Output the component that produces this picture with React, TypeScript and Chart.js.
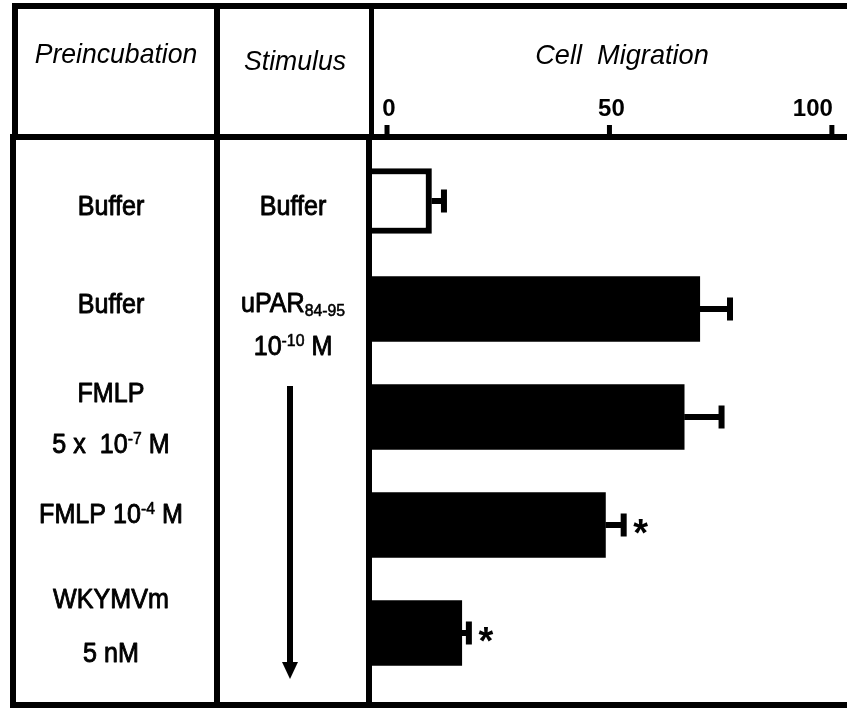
import React, { useEffect, useRef } from "react";
import { Chart, registerables } from "chart.js";

Chart.register(...registerables);

// ---------- data ----------
const categories = [
  "Buffer / Buffer",
  "Buffer / uPAR84-95",
  "FMLP 5 x 10-7 M / uPAR84-95",
  "FMLP 10-4 M / uPAR84-95",
  "WKYMVm 5 nM / uPAR84-95",
];
const migration = [10, 70.3, 66.8, 49.1, 16.8];
const migrationErr = [2.8, 6.8, 8.4, 4.1, 1.6];
const significant = [false, false, false, true, true];
const barFill = ["#ffffff", "#000000", "#000000", "#000000", "#000000"];
const barBorder = [6, 0, 0, 0, 0];
const xTicks = [0, 50, 100];
const X_MIN = -3.6;
const X_MAX = 103.4;

const headerTitles = ["Preincubation", "Stimulus", "Cell  Migration"];
// table text, "^{..}" superscript, "_{..}" subscript
const preincubationText = [["Buffer"], ["Buffer"], ["FMLP", "5 x  10^{-7} M"], ["FMLP 10^{-4} M"], ["WKYMVm", "5 nM"]];
const stimulusText = [["Buffer"], ["uPAR_{84-95}", "10^{-10} M"]];

// ---------- layout ----------
const W = 847;
const H = 708;
const FONT = '"Liberation Sans", Arial, Helvetica, sans-serif';
const COL1_X = 111;
const COL2_X = 293;
const preBaselines = [[215], [313], [402, 453], [523], [608, 662]];
const stimBaselines = [[215], [312, 355]];

type Run = { text: string; size: number; dy: number };

function parseRuns(s: string, size: number): Run[] {
  const runs: Run[] = [];
  const re = /(\^\{[^}]*\}|_\{[^}]*\})/g;
  let last = 0;
  let m: RegExpExecArray | null;
  while ((m = re.exec(s))) {
    if (m.index > last) runs.push({ text: s.slice(last, m.index), size, dy: 0 });
    const inner = m[0].slice(2, -1);
    if (m[0][0] === "^") runs.push({ text: inner, size: Math.round(size * 0.62), dy: -Math.round(size * 0.33) });
    else runs.push({ text: inner, size: Math.round(size * 0.62), dy: Math.round(size * 0.14) });
    last = m.index + m[0].length;
  }
  if (last < s.length) runs.push({ text: s.slice(last), size, dy: 0 });
  return runs;
}

function drawRich(
  ctx: CanvasRenderingContext2D,
  s: string,
  cx: number,
  baseline: number,
  size: number,
  style: string,
  scaleX: number,
  stroke = 0
) {
  const runs = parseRuns(s, size);
  let total = 0;
  const widths: number[] = [];
  for (const r of runs) {
    ctx.font = `${style} ${r.size}px ${FONT}`;
    const w = ctx.measureText(r.text).width;
    widths.push(w);
    total += w;
  }
  ctx.save();
  ctx.translate(cx - (total * scaleX) / 2, baseline);
  ctx.scale(scaleX, 1);
  ctx.textAlign = "left";
  ctx.textBaseline = "alphabetic";
  ctx.strokeStyle = "#000";
  ctx.lineJoin = "round";
  let x = 0;
  runs.forEach((r, i) => {
    ctx.font = `${style} ${r.size}px ${FONT}`;
    ctx.fillText(r.text, x, r.dy);
    if (stroke > 0) {
      ctx.lineWidth = stroke * (r.size / size);
      ctx.strokeText(r.text, x, r.dy);
    }
    x += widths[i];
  });
  ctx.restore();
}

const tablePlugin = {
  id: "tableFigure",
  afterDatasetsDraw(chart: any) {
    const ctx: CanvasRenderingContext2D = chart.ctx;
    const xs = chart.scales.x;
    const meta = chart.getDatasetMeta(0);
    ctx.save();
    ctx.fillStyle = "#000";

    // error bars + significance marks
    meta.data.forEach((bar: any, i: number) => {
      const x0 = xs.getPixelForValue(migration[i]);
      const x1 = xs.getPixelForValue(migration[i] + migrationErr[i]);
      const y = bar.y;
      ctx.fillRect(x0, y - 3, x1 - x0, 6);
      ctx.fillRect(x1 - 3, y - 11.5, 6, 23);
      if (significant[i]) {
        ctx.font = `bold 38px ${FONT}`;
        ctx.textAlign = "center";
        ctx.textBaseline = "alphabetic";
        const m = ctx.measureText("*");
        const base = y - (m.actualBoundingBoxDescent - m.actualBoundingBoxAscent) / 2;
        ctx.fillText("*", x1 + 17, base + 1);
      }
    });

    // table frame
    ctx.fillRect(12, 3, W - 12, 6); // top border
    ctx.fillRect(12, 3, 6, 137); // left border (header)
    ctx.fillRect(10, 134, 6, H - 134); // left border (body)
    ctx.fillRect(214, 3, 6, H - 3); // divider 1
    ctx.fillRect(369, 3, 5, 134); // divider 2 (header)
    ctx.fillRect(366, 134, 6, H - 134); // axis line (body)
    ctx.fillRect(10, 134, W - 10, 6); // header line / x axis
    ctx.fillRect(10, 702, W - 10, 6); // bottom border

    // x ticks
    ctx.font = `bold 24px ${FONT}`;
    ctx.textBaseline = "alphabetic";
    xTicks.forEach((t, i) => {
      const px = xs.getPixelForValue(t);
      ctx.fillRect(px - 2.5, 125, 5, 10);
      if (i === xTicks.length - 1) {
        ctx.textAlign = "right";
        ctx.fillText(String(t), px + 1, 116);
      } else {
        ctx.textAlign = "center";
        ctx.fillText(String(t), px + 2, 116);
      }
    });

    // headers
    drawRich(ctx, headerTitles[0], 116, 63, 28, "italic", 0.95);
    drawRich(ctx, headerTitles[1], 295, 70, 28, "italic", 0.95);
    drawRich(ctx, headerTitles[2], 622, 64, 28, "italic", 0.97);

    // row labels
    preincubationText.forEach((lines, r) => {
      lines.forEach((ln, k) => drawRich(ctx, ln, COL1_X, preBaselines[r][k], 27, "normal", 0.93, 0.9));
    });
    stimulusText.forEach((lines, r) => {
      lines.forEach((ln, k) => drawRich(ctx, ln, COL2_X, stimBaselines[r][k], 27, "normal", 0.93, 0.9));
    });

    // arrow
    ctx.fillRect(287, 386, 6, 280);
    ctx.beginPath();
    ctx.moveTo(282, 662);
    ctx.lineTo(298, 662);
    ctx.lineTo(290, 679);
    ctx.closePath();
    ctx.fill();

    ctx.restore();
  },
};

export default function App() {
  const ref = useRef<HTMLCanvasElement | null>(null);
  useEffect(() => {
    if (!ref.current) return;
    const chart = new Chart(ref.current, {
      type: "bar",
      data: {
        labels: categories,
        datasets: [
          {
            data: migration,
            backgroundColor: barFill,
            borderColor: "#000000",
            borderWidth: barBorder,
            barThickness: 65,
            base: X_MIN,
          } as any,
        ],
      },
      options: {
        indexAxis: "y",
        responsive: false,
        animation: false,
        events: [],
        layout: { padding: { left: 371, right: 0, top: 147, bottom: 21 } },
        scales: {
          x: { type: "linear", min: X_MIN, max: X_MAX, display: false },
          y: { display: false, offset: true },
        },
        plugins: { legend: { display: false }, tooltip: { enabled: false } },
      },
      plugins: [tablePlugin],
    });
    return () => chart.destroy();
  }, []);
  return (
    <div style={{ position: "absolute", left: 0, top: 0, width: W, height: H, background: "#fff" }}>
      <canvas ref={ref} width={W} height={H} style={{ width: W, height: H, display: "block" }} />
    </div>
  );
}
